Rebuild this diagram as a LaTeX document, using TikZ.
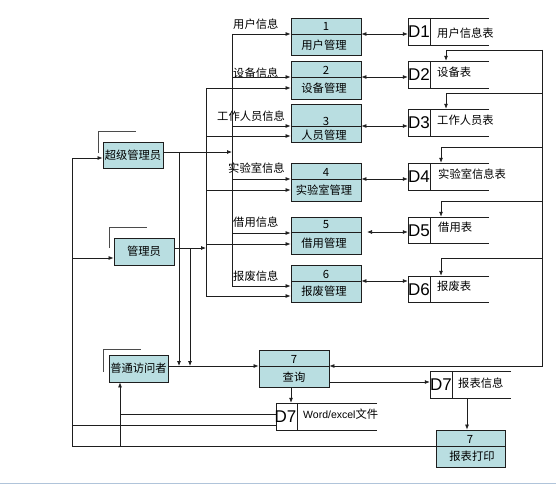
\documentclass[tikz,border=0pt]{standalone}
\usepackage{fontspec}
\setmainfont{Noto Sans CJK SC}
\newfontfamily\lat{Liberation Sans}
\usetikzlibrary{arrows.meta,fit}
\definecolor{boxfill}{RGB}{185,222,225}
\definecolor{lncol}{RGB}{30,30,30}
\definecolor{basecol}{RGB}{176,196,218}
\tikzset{
  lnk/.style={draw=lncol, line width=0.75pt},
  arr/.style={lnk, -{Latex[length=5pt,width=4pt]}},
  darr/.style={lnk, {Latex[length=5pt,width=4pt]}-{Latex[length=5pt,width=4pt]}},
  procbox/.style={draw=lncol, fill=boxfill, line width=0.8pt, inner sep=0pt},
  stline/.style={draw=lncol, line width=0.8pt},
  shadowln/.style={draw=lncol!80, line width=0.8pt},
  txt/.style={inner sep=0pt, font=\fontsize{11.3}{12}\selectfont},
  dlab/.style={inner sep=0pt, font=\lat\fontsize{17}{18}\selectfont},
}
\newcommand\procbox[6]{%
  \path (#2,#3) coordinate (#1-nw) (#4,#5) coordinate (#1-se);
  \node[procbox, fit=(#1-nw)(#1-se)] (#1) {};
  \draw[stline] (#2,#6) -- (#4,#6);}
\newcommand\dstore[6]{%
  \draw[stline] (#4,#3) -- (#2,#3) -- (#2,#5) -- (#4,#5) (#6,#3) -- (#6,#5);
  \path (#2,#3) coordinate (#1-nw) (#4,#5) coordinate (#1-se);
  \node[inner sep=0pt, fit=(#1-nw)(#1-se)] (#1) {};}
\newcommand\entitybox[9]{%
  \draw[shadowln] (#7,#8) -- (#7,#9) -- ++(38,0);
  \path (#2,#3) coordinate (#1-nw) (#4,#5) coordinate (#1-se);
  \node[procbox, fit=(#1-nw)(#1-se)] (#1) {};
  \node[txt] at (#1.center) {#6};}
\begin{document}
\begin{tikzpicture}[x=1pt,y=-1pt]
\useasboundingbox (0,0) rectangle (556,487);
\fill[white] (0,0) rectangle (556,487);
\draw[basecol, line width=1pt] (0,483) -- (556,483);

% process boxes
\procbox{p1}{291}{18}{361}{55}{34}
\procbox{p2}{291}{61}{361}{99}{77}
\procbox{p3}{291}{104}{361}{142}{126}
\procbox{p4}{291}{163}{361}{201}{179}
\procbox{p5}{291}{217}{361}{254}{232}
\procbox{p6}{291}{265}{361}{302}{281}
\procbox{q}{259}{350}{329}{387}{366}
\procbox{pr}{436}{430}{505}{467}{446}

\node[txt] at (326,26) {1};
\node[txt] at (324,45) {用户管理};
\node[txt] at (326,70) {2};
\node[txt] at (324,88) {设备管理};
\node[txt] at (326,121) {3};
\node[txt] at (324,135) {人员管理};
\node[txt] at (326,172) {4};
\node[txt] at (324,190) {实验室管理};
\node[txt] at (326,225) {5};
\node[txt] at (324,243) {借用管理};
\node[txt] at (326,274) {6};
\node[txt] at (324,291) {报废管理};
\node[txt] at (294,359) {7};
\node[txt] at (294,377) {查询};
\node[txt] at (470,439) {7};
\node[txt] at (472,456) {报表打印};

% data stores
\dstore{d1}{408}{18}{489}{45}{430}
\dstore{d2}{408}{61}{489}{88}{430}
\dstore{d3}{408}{109}{489}{136}{430}
\dstore{d4}{408}{163}{489}{190}{430}
\dstore{d5}{408}{217}{489}{243}{430}
\dstore{d6}{408}{276}{489}{302}{430}
\dstore{r}{430}{371}{511}{398}{452}
\dstore{w}{276}{403}{377}{430}{297}

\node[dlab] at (419,32) {D1};
\node[dlab] at (419,75) {D2};
\node[dlab] at (419,123) {D3};
\node[dlab] at (419,177) {D4};
\node[dlab] at (419,231) {D5};
\node[dlab] at (419,290) {D6};
\node[dlab] at (285.5,417) {D7};
\node[dlab] at (441,385) {D7};
\node[txt, anchor=west] at (437,33) {用户信息表};
\node[txt, anchor=west] at (437,72) {设备表};
\node[txt, anchor=west] at (437,120) {工作人员表};
\node[txt, anchor=west] at (438,174) {实验室信息表};
\node[txt, anchor=west] at (438,227) {借用表};
\node[txt, anchor=west] at (437,286) {报废表};
\node[txt, anchor=west] at (458,383) {报表信息};
\node[txt, anchor=west] at (303,414) {{\lat\fontsize{10.5}{12}\selectfont Word/excel}文件};

% entities
\entitybox{e1}{103}{142}{163}{168}{超级管理员}{98}{153}{131}
\entitybox{e2}{114}{238}{174}{265}{管理员}{109}{248}{227}
\entitybox{e3}{109}{355}{168}{382}{普通访问者}{103}{372}{349}

% flow labels
\node[txt, anchor=west] at (233,24) {用户信息};
\node[txt, anchor=west] at (233,73) {设备信息};
\node[txt, anchor=west] at (217,116) {工作人员信息};
\node[txt, anchor=west] at (228,168) {实验室信息};
\node[txt, anchor=west] at (233,222) {借用信息};
\node[txt, anchor=west] at (233,276) {报废信息};

% bus A (x=232)
\coordinate (ba) at (232,34);
\coordinate (bb) at (232,286);
\draw[lnk] (ba) -- (bb);
\draw[arr] (ba) -- (p1.west |- ba);
\draw[arr] (ba |- 0,77) -- (p2.west |- 0,77);
\draw[arr] (ba |- 0,126) -- (p3.west |- 0,126);
\draw[arr] (ba |- 0,179) -- (p4.west |- 0,179);
\draw[arr] (ba |- 0,233) -- (p5.west |- 0,233);
\draw[arr] (bb) -- (p6.west |- bb);
\draw[arr] (e1.east |- 0,152) -- (ba |- 0,152);

% bus B (x=206)
\coordinate (ca) at (206,88);
\coordinate (cb) at (206,296);
\draw[lnk] (ca) -- (cb);
\draw[arr] (ca) -- (p2.west |- ca);
\draw[arr] (ca |- 0,136) -- (p3.west |- 0,136);
\draw[arr] (ca |- 0,190) -- (p4.west |- 0,190);
\draw[arr] (ca |- 0,244) -- (p5.west |- 0,244);
\draw[arr] (cb) -- (p6.west |- cb);
\draw[arr] (e2.east |- 0,248) -- (ca |- 0,248);

% to query
\draw[arr] (179,152) -- (179,366);
\draw[arr] (190,248) -- (190,366);
\draw[arr] (e3.east |- 0,366) -- (q.west |- 0,366);

% process <-> stores
\draw[darr] (p1.east |- 0,34) -- (d1.west |- 0,34);
\draw[darr] (p2.east |- 0,77) -- (d2.west |- 0,77);
\draw[darr] (p3.east |- 0,126) -- (d3.west |- 0,126);
\draw[darr] (p4.east |- 0,179) -- (d4.west |- 0,179);
\draw[darr] (367,232) -- (d5.west |- 0,232);
\draw[darr] (p6.east |- 0,281) -- (d6.west |- 0,281);

% right loop
\coordinate (ra) at (542,50);
\coordinate (rb) at (542,366);
\draw[arr] (ra) -- (rb) -- (q.east |- rb);
\draw[arr] (ra) -- (446,50) -- (d2.north -| 446,0);
\draw[arr] (542,93) -- (446,93) -- (d3.north -| 446,0);
\draw[arr] (542,147) -- (441,147) -- (d4.north -| 441,0);
\draw[arr] (542,201) -- (441,201) -- (d5.north -| 441,0);
\draw[arr] (542,258) -- (441,258) -- (d6.north -| 441,0);

% query outputs
\draw[arr] (q.east |- 0,382) -- (r.west |- 0,382);
\draw[arr] (r.south -| 467,0) -- (pr.north -| 467,0);
\draw[arr] (q.south -| 291,0) -- (w.north -| 291,0);

% feedback to users
\coordinate (la) at (72,446);
\draw[lnk] (pr.west |- 0,446) -- (la);
\draw[arr] (la) -- (72,158) -- (e1.west |- 0,158);
\draw[arr] (72,258) -- (e2.west |- 0,258);
\draw[lnk] (w.west |- 0,425) -- (72,425);
\draw[arr] (w.west |- 0,414) -- (120,414) -- (e3.south -| 120,0);
\draw[lnk] (120,414) -- (120,446);
\end{tikzpicture}
\end{document}
